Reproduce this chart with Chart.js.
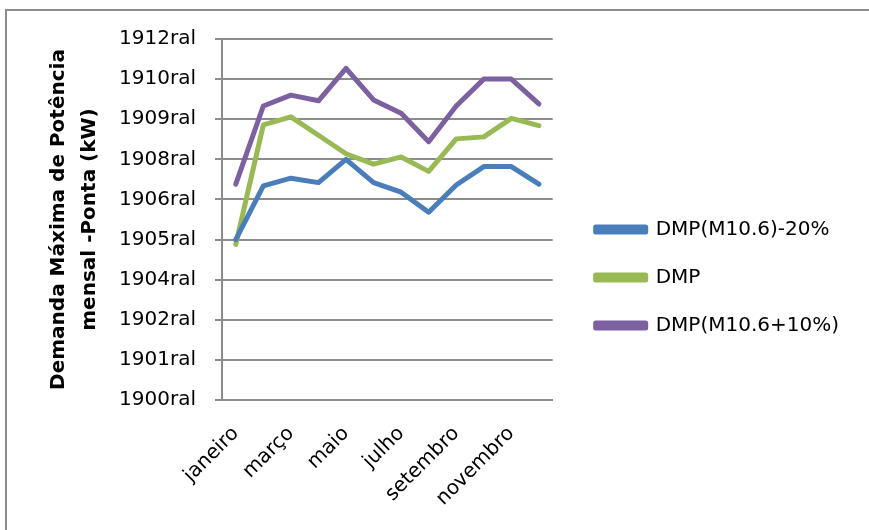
<!DOCTYPE html>
<html>
<head>
<meta charset="utf-8">
<script src="https://cdn.jsdelivr.net/npm/chart.js@4"></script>
<style>
  html, body { margin: 0; padding: 0; background: #fff; }
  #wrap { width: 869px; height: 530px; position: relative; }
</style>
</head>
<body>
<div id="wrap"><canvas id="chart" width="869" height="530"></canvas></div>
<script>
// Chart data
const months = ['janeiro', 'fevereiro', 'março', 'abril', 'maio', 'junho',
                'julho', 'agosto', 'setembro', 'outubro', 'novembro', 'dezembro'];
const dmpMinus20 = [2000, 2670, 2765, 2710, 3000, 2710, 2590, 2340, 2680, 2910, 2910, 2690];
const dmp = [1940, 3430, 3530, 3300, 3070, 2940, 3030, 2850, 3255, 3280, 3510, 3420];
const dmpPlus10 = [2690, 3665, 3800, 3730, 4135, 3740, 3575, 3220, 3665, 4000, 4000, 3690];
const yTickLabels = ['1900ral', '1901ral', '1902ral', '1904ral', '1905ral',
                     '1906ral', '1908ral', '1909ral', '1910ral', '1912ral'];

const baseFont = "'DejaVu Sans', sans-serif";

// outer frame of the chart box (top and left edges visible)
const framePlugin = {
    id: 'frame',
    beforeDraw(chart) {
        const c = chart.ctx;
        c.save();
        c.strokeStyle = '#8c8c8c';
        c.lineWidth = 2;
        c.beginPath();
        c.moveTo(6, 540);
        c.lineTo(6, 10);
        c.lineTo(880, 10);
        c.stroke();
        c.restore();
    }
};

function lineSet(label, data, color) {
    return {
        label: label,
        data: data,
        borderColor: color,
        backgroundColor: color,
        borderWidth: 5,
        pointRadius: 0,
        tension: 0,
        borderJoinStyle: 'round',
        borderCapStyle: 'round'
    };
}

new Chart(document.getElementById('chart'), {
    type: 'line',
    data: {
        labels: months,
        datasets: [
            lineSet('DMP(M10.6)-20%', dmpMinus20, '#4a7ebb'),
            lineSet('DMP', dmp, '#98b954'),
            lineSet('DMP(M10.6+10%)', dmpPlus10, '#7d60a0')
        ]
    },
    options: {
        responsive: false,
        animation: false,
        devicePixelRatio: 1,
        layout: { padding: { left: 43, top: 39, right: 20, bottom: 14 } },
        plugins: {
            legend: {
                position: 'right',
                align: 'center',
                maxWidth: 320,
                labels: {
                    boxWidth: 50,
                    boxHeight: 5,
                    padding: 28,
                    color: '#000',
                    font: { family: baseFont, size: 20 }
                }
            },
            tooltip: { enabled: false }
        },
        scales: {
            x: {
                offset: true,
                grid: { display: false, drawTicks: false },
                border: { color: '#8c8c8c', width: 2 },
                ticks: {
                    autoSkip: false,
                    maxRotation: 45,
                    minRotation: 45,
                    color: '#000',
                    padding: 22,
                    font: { family: baseFont, size: 20 },
                    callback: (v, i) => (i % 2 === 0 ? months[i] : null)
                },
                afterFit: (s) => { s.height = 116; }
            },
            y: {
                min: 0,
                max: 4500,
                grid: { color: '#8c8c8c', lineWidth: 2, tickLength: 7 },
                border: { color: '#8c8c8c', width: 2 },
                ticks: {
                    stepSize: 500,
                    color: '#000',
                    padding: 19,
                    font: { family: baseFont, size: 20 },
                    callback: (v, i) => yTickLabels[i]
                },
                title: {
                    display: true,
                    text: ['Demanda Máxima de Potência', 'mensal -Ponta (kW)'],
                    color: '#000',
                    font: { family: baseFont, size: 20, weight: 'bold', lineHeight: 1.55 },
                    padding: { top: 0, bottom: 13 }
                },
                afterFit: (s) => { s.width = 179; }
            },
            // empty axis on the right, only keeps the gap before the legend
            gap: {
                type: 'linear',
                position: 'right',
                display: true,
                grid: { display: false, drawTicks: false },
                border: { display: false },
                ticks: { display: false },
                afterFit: (s) => { s.width = 15; }
            }
        }
    },
    plugins: [framePlugin]
});
</script>
</body>
</html>
